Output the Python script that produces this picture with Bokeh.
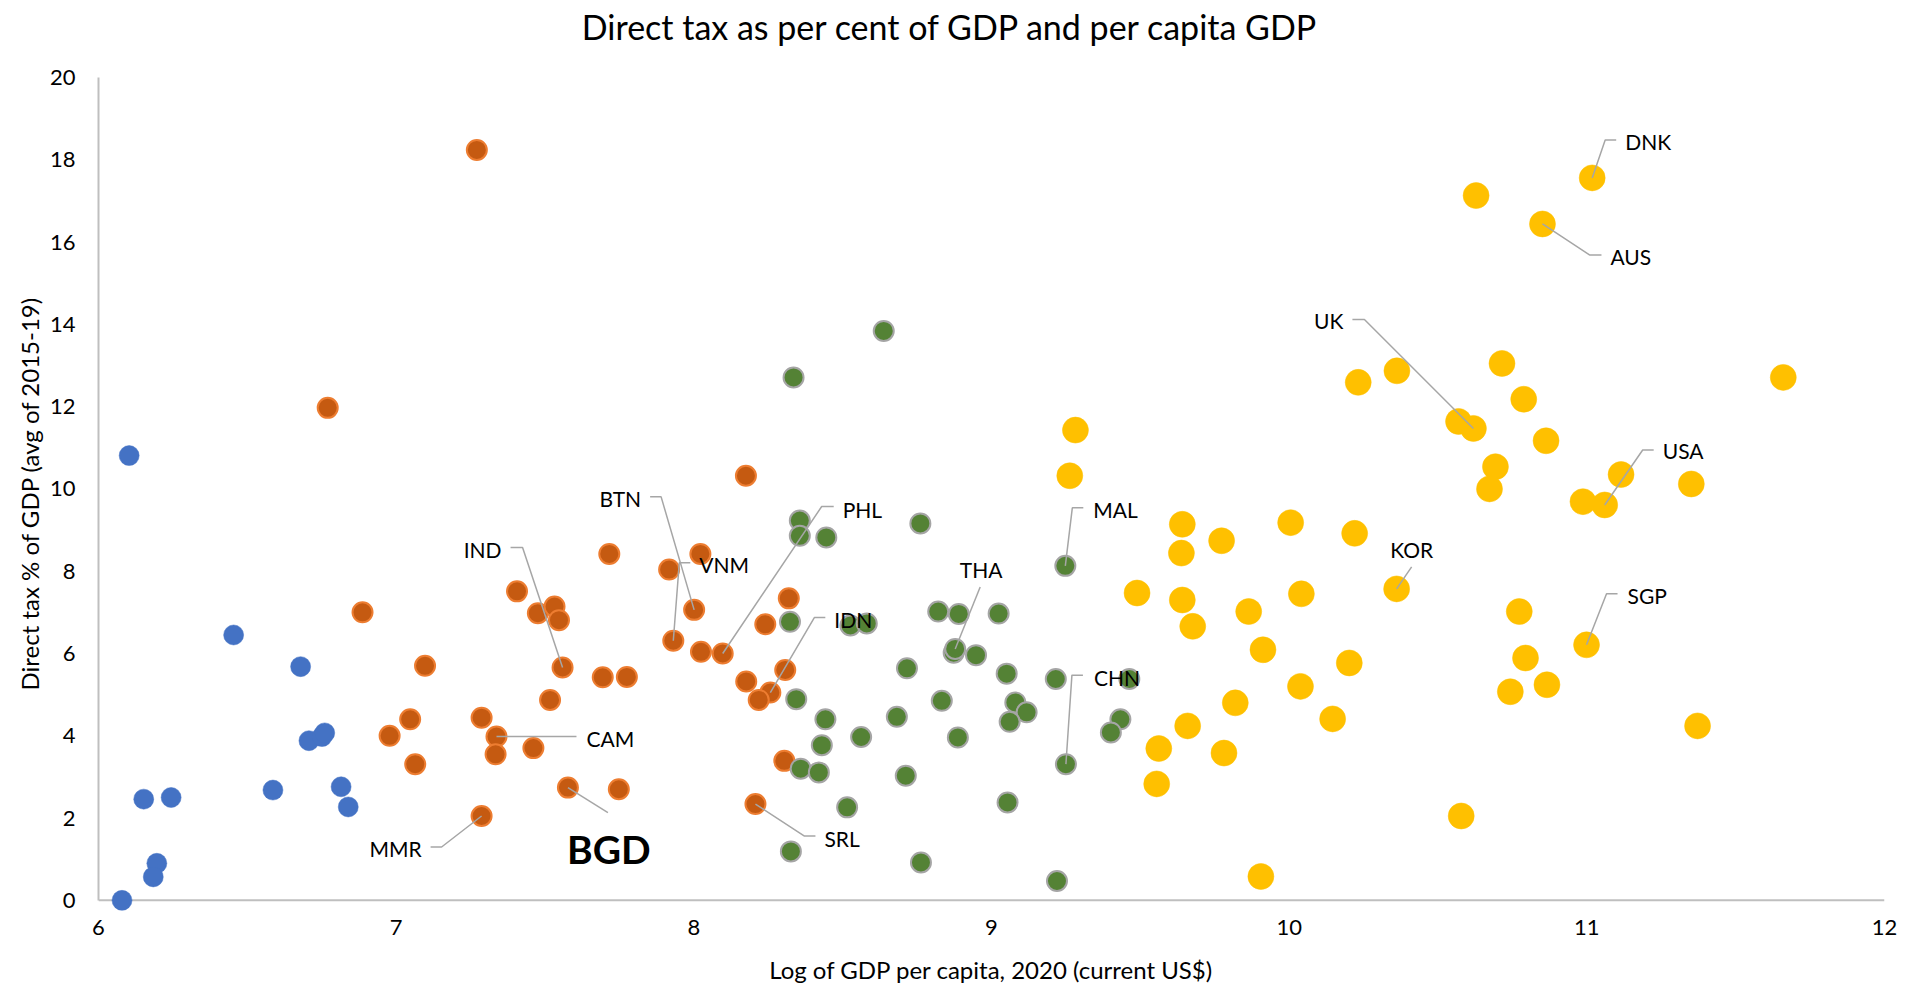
from bokeh.plotting import figure
from bokeh.models import Range1d, Span, FixedTicker, ColumnDataSource, Title
from bokeh.embed import file_html
from bokeh.resources import INLINE
from bokeh.core.properties import value

# ---------------- data ----------------
title_text = "Direct tax as per cent of GDP and per capita GDP"
x_label = "Log of GDP per capita, 2020 (current US$)"
y_label = "Direct tax % of GDP (avg of 2015-19)"
x_ticks = [6, 7, 8, 9, 10, 11, 12]
y_ticks = [0, 2, 4, 6, 8, 10, 12, 14, 16, 18, 20]

# blue group
blue_x = [6.103, 6.454, 6.679, 6.707, 6.751, 6.760, 6.586, 6.815, 6.839, 6.152, 6.244, 6.196, 6.184, 6.079]
blue_y = [10.81, 6.45, 5.68, 3.88, 3.98, 4.07, 2.68, 2.76, 2.27, 2.46, 2.50, 0.90, 0.57, 0.00]
blue_names = [""] * len(blue_x)

# orange group
orange_x = [6.770, 7.271, 6.887, 7.097, 7.047, 6.978, 7.064, 7.287, 7.337, 7.334,
            7.461, 7.287, 7.577, 7.748, 7.406, 7.476, 7.532, 7.547, 7.559, 7.517,
            7.694, 7.775, 7.716, 7.917, 8.001, 7.931, 8.022, 8.024, 8.097, 8.175,
            8.319, 8.240, 8.307, 8.176, 8.257, 8.218, 8.304, 8.207]
orange_y = [11.97, 18.24, 7.00, 5.70, 4.40, 4.00, 3.31, 4.44, 3.98, 3.55,
            3.70, 2.05, 2.74, 2.70, 7.51, 6.98, 7.14, 6.81, 5.66, 4.87,
            5.42, 5.43, 8.42, 8.04, 7.06, 6.31, 8.42, 6.04, 6.00, 10.32,
            7.34, 6.71, 5.60, 5.32, 5.05, 4.87, 3.39, 2.34]
orange_names = ["", "", "", "", "", "", "", "", "CAM", "",
                "", "MMR", "BGD", "", "", "", "", "", "IND", "",
                "", "", "", "", "BTN", "VNM", "", "", "PHL", "",
                "", "", "", "", "IDN", "", "", "SRL"]

# green group
green_x = [8.356, 8.356, 8.445, 8.761, 9.248, 8.323, 8.526, 8.581, 8.821, 8.890,
           9.024, 8.873, 8.878, 8.948, 8.716, 9.051, 9.216, 9.463, 8.344, 8.442,
           8.682, 8.833, 9.080, 9.118, 9.061, 9.433, 9.401, 8.430, 8.562, 8.887,
           9.250, 8.359, 8.420, 8.712, 8.515, 9.054, 8.326, 8.763, 9.220, 8.638,
           8.335]
green_y = [9.23, 8.86, 8.82, 9.16, 8.13, 6.77, 6.68, 6.73, 7.02, 6.96,
           6.97, 6.02, 6.11, 5.96, 5.64, 5.51, 5.38, 5.38, 4.89, 4.40,
           4.46, 4.85, 4.81, 4.57, 4.34, 4.40, 4.08, 3.77, 3.97, 3.96,
           3.31, 3.20, 3.11, 3.03, 2.26, 2.38, 1.19, 0.92, 0.47, 13.84,
           12.71]
green_names = ["", "", "", "", "MAL", "", "", "", "", "",
               "", "", "THA", "", "", "", "", "", "", "",
               "", "", "", "", "", "", "", "", "", "",
               "CHN", "", "", "", "", "", "", "", "", "",
               ""]

# yellow group
yellow_x = [9.282, 9.263, 11.018, 10.628, 10.851, 10.232, 10.362, 10.715, 10.788, 10.569,
            10.619, 10.863, 10.693, 10.673, 11.660, 11.115, 10.987, 11.060, 11.351, 9.641,
            9.638, 9.773, 10.005, 10.220, 10.361, 9.489, 9.641, 9.676, 9.864, 10.041,
            9.912, 10.202, 10.038, 9.819, 9.659, 10.146, 9.562, 9.781, 9.555, 10.578,
            9.905, 10.773, 10.999, 10.794, 10.743, 10.866, 11.372]
yellow_y = [11.43, 10.32, 17.56, 17.13, 16.44, 12.59, 12.87, 13.05, 12.18, 11.64,
            11.47, 11.17, 10.54, 10.00, 12.71, 10.35, 9.69, 9.61, 10.12, 9.14,
            8.44, 8.74, 9.18, 8.92, 7.57, 7.47, 7.30, 6.66, 7.02, 7.45,
            6.09, 5.77, 5.20, 4.80, 4.24, 4.41, 3.69, 3.58, 2.83, 2.05,
            0.58, 7.02, 6.21, 5.89, 5.07, 5.24, 4.24]
yellow_names = ["", "", "DNK", "", "AUS", "", "", "", "", "",
                "UK", "", "", "", "", "", "", "USA", "", "",
                "", "", "", "", "KOR", "", "", "", "", "",
                "", "", "", "", "", "", "", "", "", "",
                "", "", "SGP", "", "", "", ""]

# ---------------- annotation layout (screen-pixel offsets from each point) ----------------
# name: (text dx, text dy, align, [leader points dx,dy ...])
label_layout = {
    "MMR": (-60, 33, "right", [(-40, 31), (-51, 31)]),
    "BGD": (41, 61, "center", [(40, 25)]),
    "CAM": (90, 2, "left", [(80, 0)]),
    "IND": (-61, -118, "right", [(-40, -120), (-52, -120)]),
    "BTN": (-53, -111, "right", [(-33, -113), (-44, -113)]),
    "VNM": (26, -76, "left", [(6, -78), (17, -78)]),
    "PHL": (120, -144, "left", [(99, -147), (111, -147)]),
    "IDN": (64, -73, "left", [(44, -75), (55, -75)]),
    "SRL": (69, 34, "left", [(49, 32), (60, 32)]),
    "THA": (26, -79, "center", [(25, -62)]),
    "MAL": (28, -56, "left", [(7, -58), (18, -58)]),
    "CHN": (28, -87, "left", [(6, -89), (17, -89)]),
    "DNK": (33, -36, "left", [(13, -38), (24, -38)]),
    "AUS": (68, 33, "left", [(47, 31), (59, 31)]),
    "UK": (-130, -108, "right", [(-109, -109), (-121, -109)]),
    "USA": (58, -54, "left", [(38, -55), (49, -55)]),
    "KOR": (15, -39, "center", [(15, -22)]),
    "SGP": (41, -49, "left", [(20, -51), (31, -51)]),
}

FONT = "Lato"
X0, X1 = 6, 12
Y0, YTOP = -0.32, 20
FW, FH_AXIS = 1786, 836          # frame size of the data area (Y0..YTOP)
TOP_PX = 77                      # room above y=20 for the title
sx = FW / (X1 - X0)
sy = FH_AXIS / (YTOP - Y0)
Y1 = YTOP + TOP_PX / sy
FH = FH_AXIS + TOP_PX

p = figure(frame_width=FW, frame_height=FH,
           x_range=Range1d(X0, X1), y_range=Range1d(Y0, Y1),
           output_backend="svg", toolbar_location=None,
           min_border_left=98, min_border_right=20,
           min_border_top=0, min_border_bottom=62)
p.outline_line_color = None
p.xgrid.visible = False
p.ygrid.visible = False
p.background_fill_color = "white"
p.border_fill_color = "white"

# axes
for ax in (p.xaxis[0], p.yaxis[0]):
    ax.major_tick_line_color = None
    ax.minor_tick_line_color = None
    ax.major_tick_out = 0
    ax.major_tick_in = 0
    ax.major_label_text_font = FONT
    ax.major_label_text_font_size = "22px"
    ax.major_label_text_color = "#000000"
    ax.axis_label_text_font = FONT
    ax.axis_label_text_font_size = "24px"
    ax.axis_label_text_font_style = "normal"
    ax.axis_label_text_color = "#000000"

p.xaxis.ticker = FixedTicker(ticks=x_ticks)
p.yaxis.ticker = FixedTicker(ticks=y_ticks)
p.xaxis.axis_label = x_label
p.xaxis.axis_line_color = None
p.xaxis.major_label_standoff = 6
p.xaxis.axis_label_standoff = 17
p.yaxis.axis_line_color = "#BFBFBF"
p.yaxis.axis_line_width = 2
p.yaxis.bounds = (0, 20)
p.yaxis.major_label_standoff = 23

# y axis title, centred on the 0..20 span of the axis
p.add_layout(Title(text=y_label, align="left", offset=223, standoff=3,
                   vertical_align="middle", text_font=FONT, text_font_size="24px",
                   text_font_style="normal", text_color="#000000"), "left")

# x axis line at y = 0
p.add_layout(Span(location=0, dimension="width", line_color="#BFBFBF",
                  line_width=2, level="underlay"))

# points
p.scatter(blue_x, blue_y, size=20, fill_color="#4472C4", line_color="#4472C4", line_width=0.5)
p.scatter(orange_x, orange_y, size=20, fill_color="#C55A11", line_color="#ED7D31", line_width=2)
p.scatter(green_x, green_y, size=20, fill_color="#548235", line_color="#A5A5A5", line_width=2)
p.scatter(yellow_x, yellow_y, size=26, fill_color="#FFC000", line_color="#FFC000", line_width=0.5)

# labels + leader lines
lab = {"x": [], "y": [], "t": [], "dx": [], "dy": [], "al": []}
bold = {"x": [], "y": [], "t": [], "dx": [], "dy": []}
lx, ly = [], []
for xs, ys, ns in ((blue_x, blue_y, blue_names), (orange_x, orange_y, orange_names),
                   (green_x, green_y, green_names), (yellow_x, yellow_y, yellow_names)):
    for x, y, n in zip(xs, ys, ns):
        if not n:
            continue
        dx, dy, al, path = label_layout[n]
        px = [x] + [x + ox / sx for ox, oy in path]
        py = [y] + [y - oy / sy for ox, oy in path]
        lx.append(px)
        ly.append(py)
        if n == "BGD":
            bold["x"].append(x); bold["y"].append(y); bold["t"].append(n)
            bold["dx"].append(dx); bold["dy"].append(dy)
        else:
            lab["x"].append(x); lab["y"].append(y); lab["t"].append(n)
            lab["dx"].append(dx); lab["dy"].append(dy); lab["al"].append(al)

p.multi_line(lx, ly, line_color="#A6A6A6", line_width=1.5)
p.text("x", "y", text="t", x_offset="dx", y_offset="dy", text_align="al",
       text_baseline="middle", text_font=value(FONT), text_font_size="21px",
       text_color="#000000", source=ColumnDataSource(lab))
p.text("x", "y", text="t", x_offset="dx", y_offset="dy", text_align="center",
       text_baseline="middle", text_font=value(FONT), text_font_size="39px",
       text_font_style="bold", text_color="#000000", source=ColumnDataSource(bold))

# chart title, anchored at the top-left corner of the frame
p.text(x=[X0], y=[Y1], text=[title_text], x_offset=852, y_offset=26,
       text_align="center", text_baseline="middle", text_font=value(FONT),
       text_font_size="34px", text_color="#000000")

open("out.html", "w").write(file_html(p, INLINE))
